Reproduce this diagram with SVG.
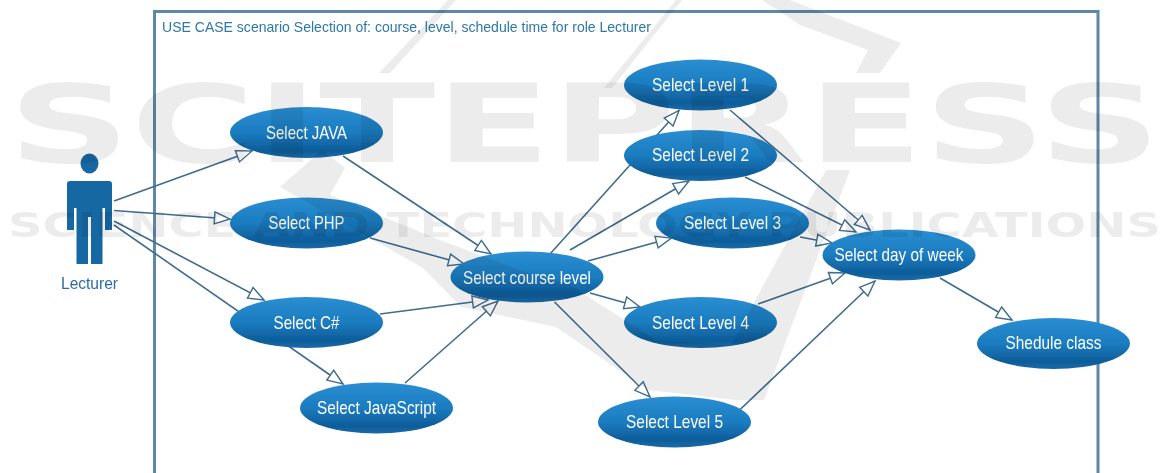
<svg xmlns="http://www.w3.org/2000/svg" width="1169" height="473" viewBox="0 0 1169 473">
<style>
.c{fill:none;stroke:#3f6c8d;stroke-width:1.6;marker-end:url(#a)}
.u{fill:url(#g);stroke:none}
.t{font-family:"Liberation Sans",Arial,sans-serif;font-size:19px;fill:#fff;text-anchor:middle}
.w{fill:#000;opacity:.075}
.wt{font-family:"DejaVu Sans",sans-serif;font-weight:bold}
</style>
<defs>
<linearGradient id="g" x1="0" y1="0" x2="0" y2="1">
<stop offset="0" stop-color="#2b8ed2"/><stop offset=".5" stop-color="#1b7cc0"/><stop offset=".85" stop-color="#0e5d9a"/><stop offset="1" stop-color="#1a6ba8"/>
</linearGradient>
<marker id="a" markerUnits="userSpaceOnUse" markerWidth="20" markerHeight="16" refX="17" refY="8" orient="auto"><path d="M1.500 2L17 8L1.500 14Z" fill="#fff" stroke="#3f6c8d" stroke-width="1.400"/></marker>
<filter id="b" x="-2%" y="-2%" width="104%" height="104%"><feGaussianBlur stdDeviation=".5"/></filter>
</defs>
<rect width="1169" height="473" fill="#fff"/>
<g filter="url(#b)">
<g id="frame"><path d="M154.500 473V11.500H1098V473" fill="none" stroke="#5f88a6" stroke-width="3"/><text x="162" y="32" font-family="'Liberation Sans',Arial,sans-serif" font-size="14.500" fill="#2f78a8" textLength="489" lengthAdjust="spacingAndGlyphs">USE CASE scenario Selection of: course, level, schedule time for role Lecturer</text></g>
<g id="connectors">
<path class="c" d="M114 201L252 151"/><path class="c" d="M114 210.500L230 219"/><path class="c" d="M114 221L264 300"/><path class="c" d="M114 225L343 384"/>
<path class="c" d="M343 156L491 254"/><path class="c" d="M370 238L464 264"/><path class="c" d="M380 314L488 300"/><path class="c" d="M405 383L498 301"/>
<path class="c" d="M550 254L679 110.500"/><path class="c" d="M570 250L689 181"/><path class="c" d="M588 261L671.500 238"/><path class="c" d="M590 293L640 307"/><path class="c" d="M554.500 302L650 397"/>
<path class="c" d="M730 110L870 230"/><path class="c" d="M745 177L856 232"/><path class="c" d="M800 237L832 243"/><path class="c" d="M758 304L845 273"/><path class="c" d="M727 422L875 281"/><path class="c" d="M940 278L1012 320"/>
</g>
<g id="actor"><ellipse cx="89.500" cy="163.500" rx="9" ry="10" fill="#1667a3"/><path d="M70 181H109Q112 181 112 184V230H105V208H102.500V264H91V217H88V264H76.500V208H74V230H67V184Q67 181 70 181Z" fill="#1667a3"/><text x="89.500" y="289" font-family="'Liberation Sans',Arial,sans-serif" font-size="17" fill="#2a6f9f" text-anchor="middle" textLength="57" lengthAdjust="spacingAndGlyphs">Lecturer</text></g>
<g id="java"><ellipse class="u" cx="306.500" cy="132.500" rx="76.500" ry="25.500"/><text class="t" x="306.500" y="139" textLength="81" lengthAdjust="spacingAndGlyphs">Select JAVA</text></g>
<g id="php"><ellipse class="u" cx="306.500" cy="223" rx="76.500" ry="25.500"/><text class="t" x="306.500" y="229" textLength="76" lengthAdjust="spacingAndGlyphs">Select PHP</text></g>
<g id="csharp"><ellipse class="u" cx="306.500" cy="322.500" rx="76.500" ry="25.500"/><text class="t" x="306.500" y="329" textLength="66" lengthAdjust="spacingAndGlyphs">Select C#</text></g>
<g id="javascript"><ellipse class="u" cx="376.500" cy="408" rx="76.500" ry="25.500"/><text class="t" x="376.500" y="414" textLength="119" lengthAdjust="spacingAndGlyphs">Select JavaScript</text></g>
<g id="course"><ellipse class="u" cx="527" cy="277" rx="76.500" ry="25.500"/><text class="t" x="527" y="284" textLength="128" lengthAdjust="spacingAndGlyphs">Select course level</text></g>
<g id="level1"><ellipse class="u" cx="700.500" cy="85" rx="76.500" ry="25.500"/><text class="t" x="700.500" y="91" textLength="97" lengthAdjust="spacingAndGlyphs">Select Level 1</text></g>
<g id="level2"><ellipse class="u" cx="700.500" cy="155.500" rx="76.500" ry="25.500"/><text class="t" x="700.500" y="161" textLength="97" lengthAdjust="spacingAndGlyphs">Select Level 2</text></g>
<g id="level3"><ellipse class="u" cx="732.500" cy="223" rx="76.500" ry="25.500"/><text class="t" x="732.500" y="229" textLength="97" lengthAdjust="spacingAndGlyphs">Select Level 3</text></g>
<g id="level4"><ellipse class="u" cx="700.500" cy="322.500" rx="76.500" ry="25.500"/><text class="t" x="700.500" y="329" textLength="97" lengthAdjust="spacingAndGlyphs">Select Level 4</text></g>
<g id="level5"><ellipse class="u" cx="674.500" cy="422" rx="76.500" ry="25.500"/><text class="t" x="674.500" y="428" textLength="97" lengthAdjust="spacingAndGlyphs">Select Level 5</text></g>
<g id="day"><ellipse class="u" cx="899" cy="255" rx="76.500" ry="25.500"/><text class="t" x="899" y="261" textLength="129" lengthAdjust="spacingAndGlyphs">Select day of week</text></g>
<g id="schedule"><ellipse class="u" cx="1053.500" cy="343.500" rx="76.500" ry="25.500"/><text class="t" x="1053.500" y="349" textLength="96" lengthAdjust="spacingAndGlyphs">Shedule class</text></g>
<g id="watermark">
<text class="w wt" x="8" y="162" font-size="108" textLength="1153" lengthAdjust="spacingAndGlyphs">SCITEPRESS</text>
<text class="w wt" x="8" y="237" font-size="33" textLength="1153" lengthAdjust="spacingAndGlyphs">SCIENCE AND TECHNOLOGY PUBLICATIONS</text>
<path class="w" d="M448 0H456L390 73H379Z"/>
<path class="w" d="M676 0H682L612 88H604Z"/>
<path class="w" d="M762 0H790L901 43L880 73H856L868 50L800 25Z"/>
<path class="w" d="M322 150L280 187L423 268L461 307L556 327L648 390L735 400L764 400L850 170H826L731 345L656 340L570 285L519 270L440 240L330 195L345 168Z"/>
</g>
</g>
</svg>
